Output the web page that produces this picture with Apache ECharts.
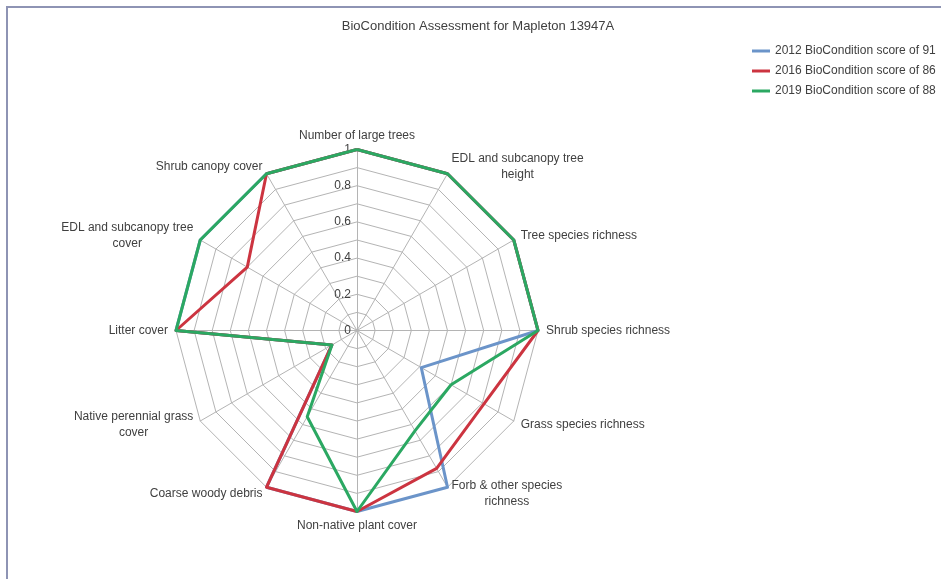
<!DOCTYPE html>
<html><head><meta charset="utf-8">
<script src="https://cdn.jsdelivr.net/npm/echarts@6/dist/echarts.min.js"></script>
<style>html,body{margin:0;padding:0;background:#fff}#c{width:941px;height:579px}</style>
</head><body><div id="c"></div>
<script>
const titleText = 'BioCondition Assessment for Mapleton 13947A';
// clockwise from the top
const categories = [
  'Number of large trees',
  'EDL and subcanopy tree height',
  'Tree species richness',
  'Shrub species richness',
  'Grass species richness',
  'Forb & other species richness',
  'Non-native plant cover',
  'Coarse woody debris',
  'Native perennial grass cover',
  'Litter cover',
  'EDL and subcanopy tree cover',
  'Shrub canopy cover'
];
const seriesNames = ['2012 BioCondition score of 91', '2016 BioCondition score of 86', '2019 BioCondition score of 88'];
const values2012 = [1, 1, 1, 1, 0.41, 1, 1, 1, 0.16, 1, 1, 1];
const values2016 = [1, 1, 1, 1, 0.81, 0.88, 1, 1, 0.16, 1, 0.70, 1];
const values2019 = [1, 1, 1, 1, 0.60, 0.64, 1, 0.55, 0.16, 1, 1, 1];
const tickLabels = ['0', '0.2', '0.4', '0.6', '0.8', '1'];
const axisMin = 0, axisMax = 1;

const colors = ['#6b94c9', '#cc3440', '#2ba862'];
const FONT = 'Liberation Sans';
const TXT = '#404040';

// ECharts lays radar indicators counter-clockwise; reorder for clockwise layout
const n = categories.length;
const order = categories.map((_, k) => (n - k) % n);
const reorder = arr => order.map(i => arr[i]);

function wrap(name) {
  if (name.length <= 22) return name;
  const cut = name.lastIndexOf(' ', 22);
  return '{c|' + name.slice(0, cut) + '}\n{c|' + name.slice(cut + 1) + '}';
}

const indicator = order.map((ci, k) => {
  const o = { name: categories[ci], min: axisMin, max: axisMax };
  if (k === 0) {
    o.axisLabel = {
      show: true,
      formatter: v => {
        const s = String(+(+v).toFixed(1));
        return tickLabels.indexOf(s) >= 0 ? s : '';
      }
    };
  }
  return o;
});

const chart = echarts.init(document.getElementById('c'), null, { renderer: 'canvas' });
chart.setOption({
  backgroundColor: '#fff',
  animation: false,
  textStyle: { fontFamily: FONT },
  graphic: [{
    type: 'rect', silent: true,
    shape: { x: 7, y: 7, width: 1000, height: 1000 },
    style: { fill: 'none', stroke: '#8e94b4', lineWidth: 2 }
  }],
  title: {
    text: titleText, left: 473, top: 15, textAlign: 'center',
    textStyle: { fontSize: 13, fontWeight: 'normal', color: TXT, fontFamily: FONT }
  },
  legend: {
    orient: 'vertical', left: 747, top: 40, itemWidth: 18, itemHeight: 3, itemGap: 8,
    icon: 'rect', data: seriesNames,
    textStyle: { fontSize: 12, color: TXT, fontFamily: FONT }
  },
  radar: {
    center: [357, 330.5], radius: 181, startAngle: 90, shape: 'polygon',
    splitNumber: 10, nameGap: 8,
    axisName: {
      color: TXT, fontSize: 12, fontFamily: FONT, formatter: wrap,
      rich: { c: { align: 'center', color: TXT, fontSize: 12, fontFamily: FONT, lineHeight: 16 } }
    },
    axisLabel: { show: false, color: TXT, fontSize: 12, fontFamily: FONT, margin: 6 },
    axisTick: { show: false },
    axisLine: { lineStyle: { color: '#b4b4b4', width: 1 } },
    splitLine: { lineStyle: { color: '#b4b4b4', width: 1 } },
    splitArea: { show: false },
    indicator: indicator
  },
  series: [values2012, values2016, values2019].map((vals, i) => ({
    type: 'radar', name: seriesNames[i], symbol: 'none',
    lineStyle: { color: colors[i], width: 3 },
    itemStyle: { color: colors[i] },
    data: [{ name: seriesNames[i], value: reorder(vals) }]
  }))
});
</script></body></html>
